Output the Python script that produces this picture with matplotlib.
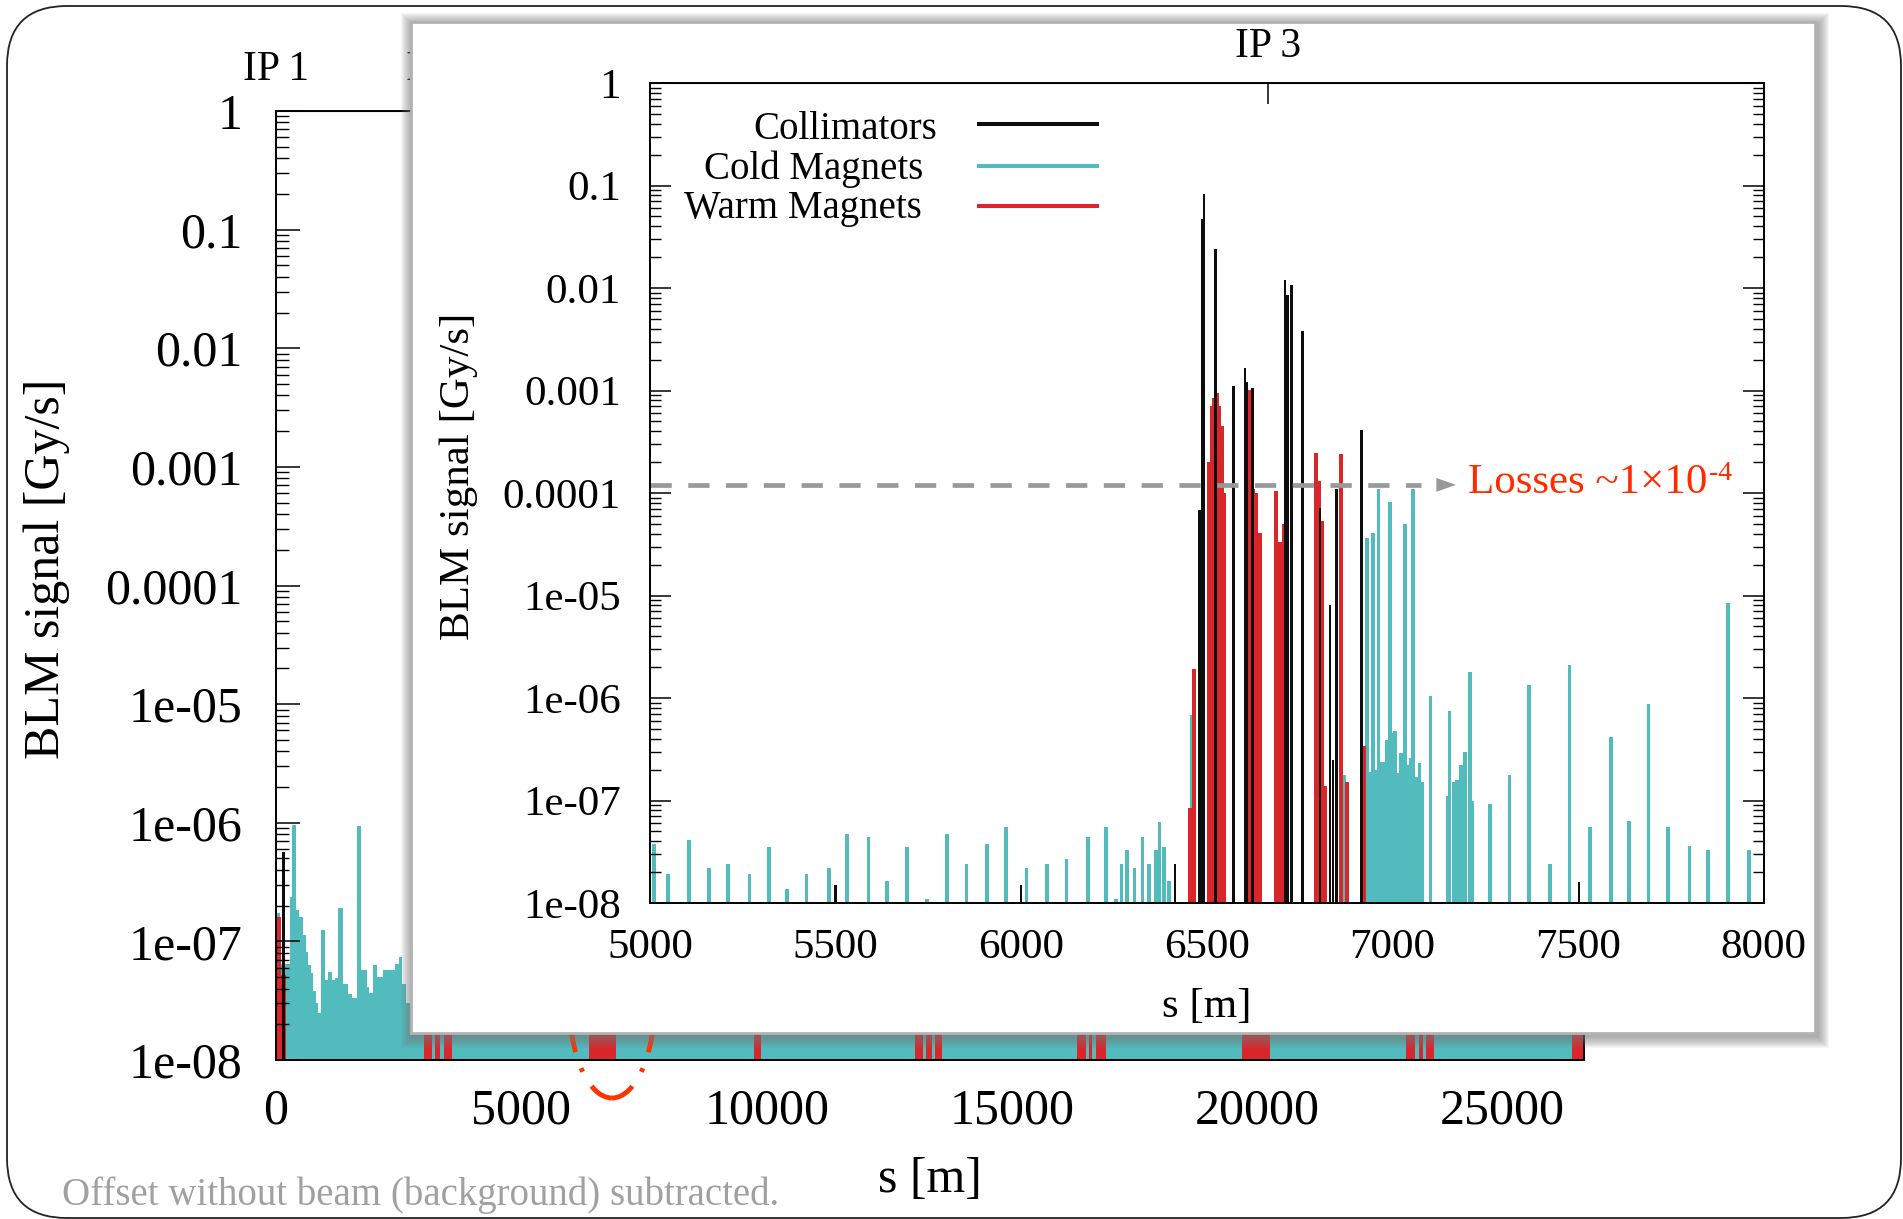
import numpy as np
import matplotlib
matplotlib.use("Agg")
import matplotlib.pyplot as plt
from matplotlib.patches import Rectangle, FancyBboxPatch, Ellipse
from matplotlib.lines import Line2D
from matplotlib.ticker import LogLocator, NullFormatter
from matplotlib.transforms import IdentityTransform

plt.rcParams["font.family"] = ["Liberation Serif", "DejaVu Serif"]

W, H = 1903, 1219
TEAL = "#52bbbe"
RED = "#d9262b"
BLACK = "#0d0d0d"
FLOOR = 1e-8

# ---- full ring (main plot) ----
# visible detail near IP1, as steps (edges in m, values in Gy/s)
main_cold_edges = [0, 75, 197, 279, 320, 401, 469, 551, 605, 660, 707, 755, 809, 857,
                   911, 993, 1061, 1136, 1197, 1271, 1367, 1469, 1557, 1645, 1741, 1850,
                   1897, 1979, 2067, 2183, 2319, 2427, 2509, 2577, 2645]
main_cold_v = [1.75e-7, 6.5e-8, 6.5e-8, 2.35e-7, 9.5e-7, 1.85e-7, 1.6e-7, 1.13e-7, 8.2e-8,
               6.3e-8, 5.4e-8, 3.8e-8, 3.05e-8, 2.5e-8, 1.24e-7, 4.7e-8, 5.5e-8, 4.7e-8,
               4.9e-8, 1.9e-7, 4.4e-8, 3.6e-8, 3.3e-8, 9.3e-7, 5.7e-8, 4.1e-8, 3.7e-8,
               6.3e-8, 5e-8, 5.7e-8, 5.7e-8, 6.5e-8, 7.4e-8, 4.4e-8]
# rest of the ring (arcs), mostly hidden by the zoom
ring_cold_edges = [2645, 26406]
ring_cold_v = [3e-8]

main_warm_start = [0, 95, 3019, 3237, 3427, 6385, 9741, 13032, 13254, 13431, 16334, 16569,
                   16708, 19696, 23032, 23291, 23444, 26406]
main_warm_end = [95, 210, 3189, 3346, 3584, 6930, 9882, 13197, 13372, 13572, 16500, 16628,
                 16910, 20257, 23209, 23385, 23595, 26659]
main_warm_v = [1.6e-7, 5.2e-8, 4e-8, 4e-8, 4e-8, 1e-3, 4e-8, 4e-8, 4e-8, 4e-8, 4e-8, 4e-8,
               4e-8, 4e-8, 4e-8, 4e-8, 4e-8, 4e-8]

main_coll_s = [155]
main_coll_v = [5.7e-7]

# interaction points labelled on the top axis (only IP1/IP2 are not under the zoom)
main_ip_s = [0, 3332]
main_ip_labels = ["IP\u20091", "IP\u20092"]
inset_ip_s = [6664]
inset_ip_labels = ["IP\u20093"]

# ---- zoom around IP3 ----
inset_cold_s = [5010, 5049, 5105, 5159, 5211, 5268, 5320, 5370, 5422, 5482, 5530, 5589,
                5639, 5693, 5747, 5801, 5853, 5908, 5960, 6014, 6070, 6122, 6180, 6228,
                6255, 6270, 6285, 6305, 6327, 6345, 6363, 6373, 6385, 6399, 6461, 6870,
                6932, 6940, 6947, 6955, 6963, 6970, 6977, 6985, 6994, 7000, 7008, 7015,
                7023, 7029, 7035, 7040, 7045, 7050, 7056, 7065, 7073, 7081, 7103, 7149,
                7154, 7165, 7175, 7185, 7195, 7209, 7215, 7263, 7316, 7369, 7424, 7477,
                7533, 7589, 7637, 7690, 7742, 7801, 7850, 7905, 7961]
inset_cold_v = [3.8e-8, 1.9e-8, 4.1e-8, 2.2e-8, 2.4e-8, 1.9e-8, 3.5e-8, 1.36e-8, 1.9e-8,
                2.2e-8, 4.7e-8, 4.4e-8, 1.64e-8, 3.5e-8, 1.09e-8, 4.7e-8, 2.4e-8, 3.8e-8,
                5.5e-8, 2.2e-8, 2.4e-8, 2.7e-8, 4.4e-8, 5.5e-8, 1.09e-8, 2.4e-8, 3.3e-8,
                2.2e-8, 4.4e-8, 2.4e-8, 3.3e-8, 6.2e-8, 3.5e-8, 1.64e-8, 6.9e-7, 1.78e-7,
                3.6e-5, 1.9e-7, 4.1e-5, 2.0e-7, 1.1e-4, 2.4e-7, 2.4e-7, 3.9e-7, 8.2e-5,
                4.6e-7, 4.8e-7, 1.85e-7, 2.9e-7, 2.5e-7, 5e-5, 2.2e-7, 2.0e-7, 2.6e-7,
                1.1e-4, 1.7e-7, 2.3e-7, 1.5e-7, 1.05e-6, 1.1e-7, 7.4e-7, 1.5e-7, 1.6e-7,
                2.2e-7, 3e-7, 1.78e-6, 1.0e-7, 9.3e-8, 1.78e-7, 1.35e-6, 2.4e-8, 2.1e-6,
                5.5e-8, 4.2e-7, 6.3e-8, 8.7e-7, 5.5e-8, 3.6e-8, 3.3e-8, 8.5e-6, 3.3e-8]

inset_warm_s = [6455, 6466, 6507, 6513, 6519, 6527, 6533, 6541, 6547, 6617, 6625, 6633,
                6643, 6687, 6695, 6703, 6709, 6715, 6794, 6802, 6810, 6818, 6861, 6877,
                6925]
inset_warm_v = [8.4e-8, 1.9e-6, 2e-4, 7.1e-4, 8.5e-4, 9.5e-4, 7e-4, 4.5e-4, 1e-4, 1.02e-3,
                1.1e-4, 1.0e-4, 4.1e-5, 1.05e-4, 3.3e-5, 3.3e-5, 5e-5, 2.4e-4, 2.45e-4,
                1.3e-4, 5.3e-5, 1.4e-7, 2.4e-4, 1.5e-7, 3.4e-7]

inset_coll_s = [5500, 6000, 6415, 6481, 6487, 6493, 6524, 6572, 6603, 6608, 6623, 6711,
                6717, 6728, 6758, 6805, 6832, 6840, 6849, 6917, 7503]
inset_coll_v = [1.5e-8, 1.5e-8, 2.4e-8, 6.9e-5, 0.047, 0.082, 0.024, 1.1e-3, 1.65e-3,
                1.2e-3, 1.05e-3, 0.012, 0.0085, 0.0108, 3.8e-3, 7.1e-5, 8.1e-6, 2.5e-7,
                1.1e-4, 4.1e-4, 1.6e-8]

losses_level = 1.2e-4

y_decades = [1, 0.1, 0.01, 0.001, 0.0001, 1e-5, 1e-6, 1e-7, 1e-8]
y_labels = ["1", "0.1", "0.01", "0.001", "0.0001", "1e-05", "1e-06", "1e-07", "1e-08"]


def fx(x):
    return x / W


def fy(y):
    return 1 - y / H


def log_yaxis(a, size, major_len, minor_len, pad):
    a.set_yscale("log")
    a.set_ylim(FLOOR, 1)
    a.set_yticks(y_decades, labels=y_labels)
    a.yaxis.set_minor_locator(LogLocator(base=10, subs=np.arange(2, 10), numticks=100))
    a.yaxis.set_minor_formatter(NullFormatter())
    a.tick_params(axis="y", which="major", direction="in", length=major_len, width=1.1,
                  labelsize=size, pad=pad, right=True)
    a.tick_params(axis="y", which="minor", direction="in", length=minor_len, width=1.0,
                  right=True)
    for sp in a.spines.values():
        sp.set_linewidth(1.4)


fig = plt.figure(figsize=(W / 100, H / 100), dpi=100)

# main plot
ax = fig.add_axes([fx(276), fy(1060), (1584 - 276) / W, (1060 - 111) / H])
ax.stairs(main_cold_v, main_cold_edges, baseline=FLOOR, fill=True, color=TEAL, lw=0)
ax.stairs(ring_cold_v, ring_cold_edges, baseline=FLOOR, fill=True, color=TEAL, lw=0)
ax.bar(main_warm_start, np.array(main_warm_v) - FLOOR,
       width=np.array(main_warm_end) - np.array(main_warm_start),
       bottom=FLOOR, align="edge", color=RED, lw=0)
ax.bar(main_coll_s, np.array(main_coll_v) - FLOOR, width=70, bottom=FLOOR,
       color=BLACK, lw=0)
ax.set_xlim(0, 26659)
log_yaxis(ax, 36, 17, 9, 24)
ax.set_xticks(range(0, 25001, 5000))
ax.tick_params(axis="x", length=0, labelsize=36, pad=20)
sec = ax.secondary_xaxis("top")
sec.set_xticks(main_ip_s, labels=main_ip_labels)
sec.tick_params(direction="in", length=15, labelsize=30, pad=16)

# red dash-dot ellipse marking the zoomed region
fig.add_artist(Ellipse((612, H - 1000), 86, 196, transform=IdentityTransform(),
                       fill=False, edgecolor="#ff3300", lw=3.5,
                       linestyle=(0, (5, 3.5, 0.8, 3.5)), zorder=1))

# inset frame with soft shadow
bl, bt, br, bb = 411, 22, 1815, 1033
for k in range(1, 13):
    fig.add_artist(Rectangle((bl - k + 2, H - (bb + k + 3)), br - bl + 2 * k,
                             bb - bt + 2 * k, transform=IdentityTransform(),
                             facecolor="#7a7a7a", edgecolor="none", alpha=0.07, zorder=2))
fig.add_artist(Rectangle((bl, H - bb), br - bl, bb - bt, transform=IdentityTransform(),
                         facecolor="white", edgecolor="#b3b3b3", lw=2, zorder=3))

# inset plot
axi = fig.add_axes([fx(650), fy(903), (1763.5 - 650) / W, (903 - 83) / H], zorder=4)
axi.bar(inset_cold_s, np.array(inset_cold_v) - FLOOR, width=10, bottom=FLOOR,
        color=TEAL, lw=0)
axi.bar(inset_warm_s, np.array(inset_warm_v) - FLOOR, width=10, bottom=FLOOR,
        color=RED, lw=0)
axi.bar(inset_coll_s, np.array(inset_coll_v) - FLOOR, width=7, bottom=FLOOR,
        color=BLACK, lw=0)
axi.set_xlim(5000, 8000)
log_yaxis(axi, 31, 15, 8, 21)
axi.set_xticks(range(5000, 8001, 500))
axi.tick_params(axis="x", length=0, labelsize=31, pad=18)
seci = axi.secondary_xaxis("top")
seci.set_xticks(inset_ip_s, labels=inset_ip_labels)
seci.tick_params(direction="in", length=15, width=1.1, labelsize=30, pad=12)

axi.plot([5000, 7078], [losses_level] * 2, color="#999999", lw=3.4, dashes=(4.5, 3.5))
axi.annotate("", xy=(7171, losses_level), xytext=(7119, losses_level),
             arrowprops=dict(arrowstyle="-|>,head_length=0.7,head_width=0.25",
                             mutation_scale=20, color="#999999", lw=0,
                             shrinkA=0, shrinkB=0))

# legend
legend_items = [("Collimators", BLACK, 937, 139.3, 124.3),
                ("Cold Magnets", TEAL, 923, 179.3, 165.7),
                ("Warm Magnets", RED, 922, 218.3, 205.7)]
for name, col, xr, yb, yl in legend_items:
    fig.text(fx(xr), fy(yb), name, ha="right", va="baseline", size=28, zorder=6)
    fig.add_artist(Line2D([fx(979), fx(1097)], [fy(yl)] * 2, color=col, lw=2.9,
                          transform=fig.transFigure, zorder=6))

t = fig.text(fx(1468), fy(493.3), "Losses ~1×10", color="#ff2a00", size=31,
             va="baseline", zorder=6)
fig.canvas.draw()
ext = t.get_window_extent()
fig.text((ext.x1 + 2) / W, fy(480), "-4", color="#ff2a00", size=20, va="baseline",
         zorder=6)

# axis titles
fig.text(fx(47), fy(569), "BLM signal [Gy/s]", rotation=90, ha="center", va="center",
         size=36)
fig.text(fx(930), fy(1191.7), "s [m]", ha="center", va="baseline", size=36)
fig.text(fx(459), fy(476), "BLM signal [Gy/s]", rotation=90, ha="center", va="center",
         size=31, zorder=6)
fig.text(fx(1207), fy(1016.7), "s [m]", ha="center", va="baseline", size=31, zorder=6)

fig.text(fx(62), fy(1205), "Offset without beam (background) subtracted.",
         color="#a0a0a0", size=28, va="baseline")

# slide frame
fig.add_artist(FancyBboxPatch((7, H - 1218), 1894, 1212,
                              boxstyle="round,pad=0,rounding_size=60",
                              transform=IdentityTransform(), fill=False,
                              edgecolor="#222222", lw=1.3, zorder=7))

fig.savefig("out.png", dpi=100)
